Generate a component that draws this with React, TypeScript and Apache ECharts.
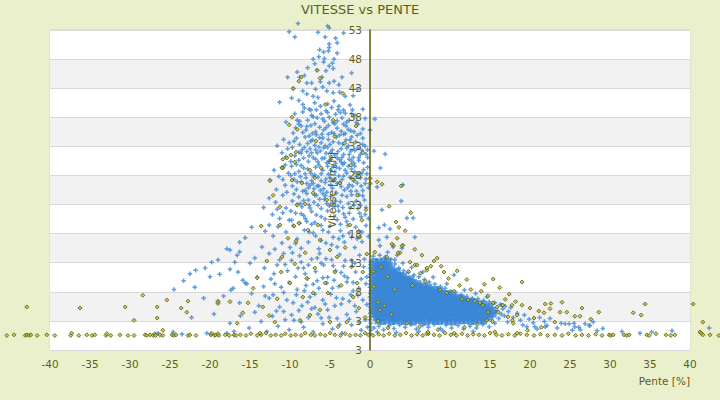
import React, { useEffect, useRef } from "react";
import * as echarts from "echarts";

const titleText = "VITESSE vs PENTE";
const xName = "Pente [%]";
const yName = "Vitesse [km/h]";
const yTickLabels = ["3", "3", "8", "13", "18", "23", "28", "33", "38", "43", "48", "53"];

// Blue series (crosses) – main cluster on descents
const bluePeak: number[][] = [
  [-9,54.1],[-5.3,53.7],[-5.1,53.4],[-10.1,52.7],[-9.4,51.8],[-6.5,52.6],[-5.6,51.8],[-4.3,51.6],[-3.3,52.5],[-5.1,50.6],[-4.1,50.8],[-5.1,50],
  [-6.3,49.6],[-5.8,49.2],[-5.2,49.4],[-4.1,49],[-6.4,48.4],[-7.1,48],[-5.7,48.1],[-5.8,47.5],[-4.5,48],[-4.7,47.3],[-5.1,46.8],[-6.6,46.1],[-5.5,46],[-7.8,46.5],[-3.5,44.9],[-2.3,45.6],[-9.1,45.8],[-8.2,45.2],[-4.6,46.4],[-6.9,47.2],
  [-10.3,44.9],[-8.8,44.9],[-7.9,43.9],[-7.3,43.9],[-6,44.9],[-6.2,44.1],[-5.1,43.9],[-4.5,44.2],[-3.9,43.6],[-9.6,43],[-8.4,42.5],[-7.9,42],[-7.1,41.6],[-6.5,41.4],[-5.4,42.5],[-4.6,42.2],[-3.8,42.3],[-3.1,41.6],[-2.1,41.7],[-11.3,40.6],[-9.8,41.3],[-8.9,40.9],[-8.4,40.2],[-7.4,39.2],[-6.9,40.5],[-6.2,39.9],[-5.3,40.3],[-4.5,40.8],[-3.9,39.9],[-3.3,39.2],[-2.5,40.1],[-0.9,39.4],[-1.6,42.8],[-5.9,43.2],[-6.8,42.8],
  [-9.4,38.6],[-9.1,37.5],[-8.4,38.9],[-7.8,37.5],[-7.1,38.1],[-6.1,38.6],[-5.7,37.3],[-5.1,38],[-4.3,38.5],[-3.5,37.9],[-2.6,37.5],[-1.9,38.3],[-0.9,36],[0,35.8],[-9.6,35.3],[-9.3,36.2],[-8.6,36.5],[-8,35.8],[-7.4,36.6],[-6.8,35.5],[-6.3,36.3],[-5.8,35.8],[-5.2,36.6],[-4.8,35.4],[-4.1,36.1],[-3.6,35.6],[-3,36.5],[-2.4,35.7],[-1.5,36.8],[-1.2,35.2],[-10.5,37.2],[-6.6,37.9],[-4.6,37.1],[-3.1,38.7],[-7.6,39.4],[-2.2,39.3],[-8.8,37.3],[-5.5,39.1],[-4,39.3],[-0.6,37.8],[0.6,37.7],[-6,35.1],[-7.2,35.2],[-3.3,35.1],[-2,35.5],
  [-11.6,33.1],[-10.8,34.2],[-10.1,33.6],[-9.7,32.8],[-9.2,34.4],[-8.8,33.3],[-8.5,32.4],[-8.1,34.6],[-7.8,33.5],[-7.5,32.6],[-7.2,34.1],[-6.9,33.2],[-6.6,31.9],[-6.3,34.5],[-6.1,33.6],[-5.8,32.7],[-5.5,31.8],[-5.2,34.2],[-5,33.3],[-4.7,32.4],[-4.4,31.5],[-4.2,34.6],[-3.9,33.6],[-3.6,32.6],[-3.3,31.6],[-3,34.1],[-2.7,33.1],[-2.4,32.2],[-2.1,31.1],[-1.8,33.8],[-1.5,32.7],[-1.2,31.6],[-0.9,34.4],[-0.6,33],[-0.3,32.4],[0.5,32.2],[1.9,31.7],[-10.5,31.2],[-9.9,30.4],[-9.4,31.4],[-8.9,30.6],[-8.3,31],[-7.7,30.4],[-7.1,31.1],[-6.5,30.3],[-6,30.9],[-5.4,30.2],[-4.9,30.8],[-4.3,30.1],[-3.8,30.7],[-3.2,30.2],[-2.6,30.8],[-2,30.1],[-1.4,30.6],[-0.8,30.2],[-0.3,31.1],[-11,31.9],[-7.4,33.9],[-5.6,33.1],[-4.6,33.8],[-3.4,33.4],[-2.3,34.6],[-6.8,32.4],[-8.6,31.8],[-9.5,33.9],[-1,32.3],[-4,32.1],[-5.3,32.8],[-2.9,32.7],[-6.4,32.9],[-7.9,32.1],
  [-12.5,27.2],[-12,28.9],[-11.4,27.8],[-11,29.4],[-10.6,26.3],[-10.2,28.4],[-9.8,29.6],[-9.5,27.3],[-9.2,25.6],[-8.9,28.7],[-8.6,26.9],[-8.3,29.3],[-8,27.6],[-7.7,25.9],[-7.4,28.4],[-7.1,26.6],[-6.8,29.4],[-6.5,27.7],[-6.2,25.4],[-5.9,28.9],[-5.6,26.8],[-5.3,29.6],[-5,27.6],[-4.7,25.8],[-4.4,28.6],[-4.1,26.6],[-3.8,29.2],[-3.5,27.3],[-3.2,25.5],[-2.9,28.4],[-2.6,26.4],[-2.3,29.1],[-2,27.1],[-1.7,25.3],[-1.4,28.3],[-1.1,26.2],[-0.8,29],[-0.5,27.4],[-0.2,25.9],[1.3,29.3],[0.9,26],[4.1,26.4],[-11.7,25.6],[-10.4,25.1],[-9.7,26.2],[-8.4,25.3],[-7.3,27.1],[-6.4,26.2],[-5.4,25.1],[-4.6,27.1],[-3.6,26.1],[-2.5,27.7],[-1.6,26.7],[-0.4,28.3],[-6.9,28.1],[-5.2,28.2],[-3.1,28.9],[-8.1,28.3],[-9.1,26.9],[-7.8,29.1],[-4.2,29.4],[-1.9,28.6],[-6.1,27.1],[-3.9,27.9],[-2.8,25.9],[-5.8,25.7],[-4.9,26.4],[-7.5,26.3],[-10.9,27.3],[-1.2,27.6],[-0.9,25.4],
  [-13.3,22.5],[-12.6,24.1],[-12.2,21.3],[-11.8,23.4],[-11.3,20.6],[-10.9,24.6],[-10.5,22.4],[-10.1,20.3],[-9.7,23.6],[-9.3,21.5],[-8.9,24.3],[-8.5,22.6],[-8.1,20.6],[-7.7,23.8],[-7.3,21.8],[-6.9,24.6],[-6.5,22.9],[-6.1,20.9],[-5.7,23.9],[-5.3,21.9],[-4.9,24.4],[-4.5,22.6],[-4.1,20.4],[-3.7,23.5],[-3.3,21.4],[-2.9,24.4],[-2.5,22.4],[-2.1,20.5],[-1.7,23.6],[-1.3,21.5],[-0.9,24.5],[-0.5,22.5],[-0.2,20.6],[1.5,22.1],[3.9,23.6],[4.6,20.7],[5.4,20.7],[-9.9,21.9],[-8.7,23.2],[-7.5,22.4],[-6.3,23.9],[-5.1,22.8],[-3.9,21.9],[-2.7,23.2],[-1.5,22.3],[-0.7,23.8],[-11.6,22.2],[-6.7,21.2],[-4.3,23.6],[-3.1,20.8],[-8.3,21.1],[-9.5,24.8],[-5.9,24.9],[-2.3,24.7],[-1.1,20.9],[-7.9,24.9],
  [-14.8,19.1],[-12.6,19.5],[-13.5,15.7],[-17.9,15.4],[-16.3,14.9],[-16.3,16.5],[-12.1,17.6],[-11.5,19.2],[-11,16.4],[-10.5,18.3],[-10,15.6],[-9.6,19.4],[-9.1,17.1],[-8.6,15.5],[-8.2,18.6],[-7.7,16.5],[-7.3,19.6],[-6.8,17.6],[-6.4,15.4],[-5.9,18.6],[-5.5,16.4],[-5,19.3],[-4.6,17.4],[-4.1,15.7],[-3.7,18.5],[-3.2,16.5],[-2.8,19.4],[-2.3,17.4],[-1.9,15.6],[-1.4,18.5],[-1,16.6],[-0.5,19.4],[-0.2,17.5],[1.1,19],[1.8,19.5],[2.5,18.8],[2.1,17.4],[5.6,17.4],[1.1,16.9],[2.9,15.7],[-9.3,16.3],[-7.1,18.1],[-4.8,16.1],[-2.6,18.1],[-13.1,18.4],[-6.1,16.8],[-3.4,17.6],[-8.8,19.8],[-1.6,17.1],[-11.9,15.3],[-15.6,17.3],
  [-23.3,9.9],[-21.8,11.7],[-20.6,12.1],[-19.8,13.1],[-19,13.5],[-17.5,15.2],[-16.6,14.3],[-18.8,11],[-17.5,11.9],[-16.5,11.4],[-15.6,9.5],[-14.1,10.5],[-15,12.9],[-11.3,13.5],[-14.4,13.8],[-13.2,12.1],[-12.6,14.6],[-12,11.1],[-11.6,12.6],[-10.8,14.6],[-10.3,11.6],[-9.8,13.4],[-9.3,10.6],[-8.8,14.2],[-8.3,12.1],[-7.8,10.3],[-7.3,13.6],[-6.8,11.5],[-6.3,14.6],[-5.8,12.6],[-5.3,10.5],[-4.8,13.5],[-4.3,11.6],[-3.8,14.4],[-3.3,12.4],[-2.8,10.4],[-2.3,13.4],[-1.8,11.4],[-1.3,14.3],[-0.8,12.3],[-0.4,10.6],[-9,12.1],[-6.1,12.9],[-3.6,11.3],[-12.4,10.2],[-16.9,13.1],[-20,10.6],[-22.5,11.1],
  [-20.8,6.9],[-19,6.4],[-17.4,8.3],[-17.1,8.6],[-15.9,10],[-15.4,9.4],[-24.5,8.4],[-21.9,8.8],[-18.3,7.3],[-16.3,6.1],[-14.8,7.7],[-13.9,5.6],[-13.3,8.9],[-12.6,6.9],[-11.9,9.4],[-11.3,5.4],[-10.8,7.9],[-10.1,9.6],[-9.6,6.1],[-9.1,8.4],[-8.5,5.6],[-8,9.1],[-7.5,7.1],[-6.9,5.3],[-6.4,8.6],[-5.9,6.6],[-5.4,9.5],[-4.9,7.6],[-4.4,5.6],[-3.9,8.9],[-3.4,6.8],[-2.9,9.7],[-2.4,7.5],[-1.9,5.6],[-1.4,8.6],[-0.9,6.6],[-0.5,9.4],[-10.4,6.6],[-7.8,6.2],[-4.2,7],[-12.1,7.5],[-2.1,8.2],[-6.6,9.9],
  [-26.5,0.9],[-24.6,1.1],[-23.5,0.7],[-20.4,0.9],[-19.9,0.7],[-17.9,0.9],[-17,1.2],[-22.3,3.6],[-19.5,4.2],[-17.5,2.6],[-16.2,3.9],[-15.1,1.8],[-14.4,4.5],[-13.6,2.9],[-12.9,1.2],[-12.2,3.8],[-11.5,2.1],[-10.8,4.6],[-10.1,1.5],[-9.5,3.1],[-8.9,4.8],[-8.3,1.9],[-7.7,3.6],[-7.1,1.1],[-6.5,4.2],[-5.9,2.5],[-5.3,4.9],[-4.7,1.6],[-4.1,3.4],[-3.5,0.9],[-2.9,4.1],[-2.3,2.3],[-1.7,4.6],[-1.1,1.4],[-0.6,3.2]
];

// Blue series – extra points in the densest part of the descent cluster
const bluePeakDense: number[][] = [
  [-8.2,39.6],[-7.3,38.3],[-6.7,39.3],[-5.9,37.7],[-5.3,38.8],[-4.8,39.7],[-4.1,37.4],[-3.7,38.8],[-2.9,37.2],[-2.3,38.6],[-8.9,36.8],[-7.9,36.4],[-6.9,36.9],[-5.5,36.2],[-4.4,36.9],[-3.3,36.8],[-2.7,35.9],[-1.7,37.1],
  [-8.4,35.4],[-7.6,34.8],[-6.7,35],[-5.9,34.4],[-5.2,35.1],[-4.5,35.2],[-3.8,34.9],[-3.1,35.2],[-2.5,34.1],[-1.6,34.9],[-8.9,32],[-8.2,32.8],[-7.3,31.9],[-6.2,32.2],[-5.7,31],[-4.9,32],[-4.1,31],[-3.5,31.1],[-2.6,31.6],[-1.9,32.3],[-1.4,31.1],[-0.5,31.7],[-7.6,31.4],[-6.8,30.8],[-5.1,30.5],[-3.6,30.3],[-2.3,30.5],[-9.2,29.9],[-0.9,33.3],[-10.3,32.6],
  [-9.4,28.3],[-8.7,27.8],[-7.9,26.6],[-7.1,27.9],[-6.6,26.2],[-6.1,28.3],[-5.5,27.4],[-4.9,28.9],[-4.4,27.4],[-3.8,26.8],[-3.3,27.9],[-2.7,29.6],[-2.2,26.2],[-1.7,27.8],[-1,28.4],[-8.1,25.4],[-7,25.7],[-6.7,24.6],[-5.6,24.5],[-4.2,25],[-3.5,24.6],[-2.4,25.3],[-1.4,24.7],[-0.6,26.6],[-9.9,28],[-10.6,29.8],[-8.6,29.7],[-6.4,29.8],[-4.6,29.6],[-3.4,29.9],[-1.9,29.6],[-0.3,29.4],
  [-9.1,23],[-8.3,23.7],[-7.6,22.9],[-7,23.4],[-6.1,22.3],[-5.4,23.2],[-4.7,23.3],[-4,22.7],[-3.4,22.5],[-2.6,21.5],[-2,22.9],[-1.2,22.9],[-0.6,21.3],[-8.6,21.4],[-7.9,20.1],[-6.9,19.9],[-6.1,19.4],[-5.6,20.5],[-4.5,20.9],[-3.7,19.6],[-2.9,20.1],[-1.8,19.1],[-1,18.3],[-9.8,20.3],[-10.9,21.6],[-5.2,18.3],[-3.9,17.1],[-7.6,18.3],
  [-9.7,14.7],[-8.6,13.1],[-7.7,12.6],[-6.6,13.8],[-5.5,13.7],[-4.6,12.5],[-3.1,13.4],[-1.9,12.9],[-0.7,13.6],[-10.6,12.7],[-8.1,11.1],[-7.1,9.3],[-5.9,10.4],[-4.5,10],[-3.2,10.7],[-2.1,9.6],[-1.1,10.2],[-9.2,7.5],[-8.2,8.2],[-6.9,7.6],[-5.6,5.9],[-4.7,8.6],[-3.6,5.9],[-2.6,6.4],[-1.5,7.4],[-0.4,5.8],[-9.8,4],[-8.6,2.8],[-7.3,5.1],[-6.1,3.5],[-5.1,3.6],[-3.8,2.4],[-2.6,3.3],[-1.4,2.8],[-0.3,1.9],[-11.7,4.7],[-10.6,3.2],[-13.1,7.3],[-11.1,8.8]
];

// Blue series – points stacked at 0 % slope
const blueZero: number[][] = [
  [0.05,0.8],[0.1,1.4],[0.05,2.0],[0.1,2.6],[0,3.2],[0.1,3.7],[0.05,4.3],[0.1,4.9],[0,5.4],[0.05,6.0],[0.1,6.6],[0,7.1],[0.05,7.7],[0.1,8.2],[0,8.8],[0.05,9.3],[0.1,9.9],[0,10.5],[0.05,11.0],[0.1,11.6],[0,12.1],[0.05,12.7],[0.1,13.2]
];

// Blue series – edges of the climbing cluster and right tail
const blueClimbEdge: number[][] = [
  [0.4,14.1],[1.2,14.3],[1.9,14],[2.6,13.6],[3.1,12.8],[3.6,12.1],[4.2,11.6],[4.8,11.3],[5.5,10.9],[6.1,10.6],[6.8,10.1],[7.4,9.7],[8.1,9.3],[8.8,8.9],[9.4,8.6],[10.1,8.1],[10.7,7.9],[11.4,7.5],[12.1,7.2],[12.8,6.9],[13.5,6.8],[14.2,6.5],[14.9,6.3],[15.6,6.1],[16.3,5.8],[16.9,5.5],[17.6,5.3],[1.25,15.9],[3.4,14.3],[4,15.5],[3.1,13.5],[4.1,12.9],[5.2,12.2],[6.6,11.4],[10.5,10.9],[2.2,14.8],[7.9,10.5],[9.6,9.4],[11.8,8.3],[13.2,7.7],[14.6,7.1],
  [0.5,1.8],[1.1,2.1],[1.7,1.5],[2.4,2.2],[3.0,1.7],[3.7,2.3],[4.4,1.9],[5.1,2.4],[5.8,1.6],[6.6,2.3],[7.3,1.9],[8.0,2.4],[8.8,1.7],[9.5,2.3],[10.2,1.8],[11.0,2.2],[11.7,1.6],[12.5,2.1],[13.3,1.8],[14.1,2.4],[14.9,2.0],[15.6,2.6],[0.9,1.1],[3.3,1.0],[6.1,1.2],[9.1,1.3],[12.9,1.2],
  [15.9,4.8],[16.4,4.2],[16.1,3.4],[16.8,3.9],[17.3,4.6],[17.9,3.6],[18.4,4.3],[16.6,5.1],[17.2,2.8],[18.8,3.1],[19.3,4.0],[19.9,3.3],[20.4,2.7],[21.2,3.6],[21.8,2.9],[22.5,3.4],[23.4,1.8],[23.9,2.6],[24.4,2.5],[24.9,2.5],[25.5,2.6],[26.1,1.9],[26.9,2.5],[27.4,2.2],[28.4,1.3],[33.75,0.9],[37.75,1.3],[42.4,1.8],[19.6,2.0],[20.9,1.6],[22.1,2.2],[25.3,1.4],[27.9,2.8],[29.1,1.7],[31.5,1.2],[35.2,1.1],[19.1,2.3],[20.6,2.0],[21.9,2.0],[25.6,2.0],[26.3,1.5],[27.5,2.2]
];

// Blue series – dense core of the climbing cluster
const blueClimbCore: number[][] = [
  [1.0,3.0],[1.6,2.9],[2.1,3.1],[2.7,2.9],[3.2,3.0],[3.8,3.1],[4.3,2.9],[4.9,3.0],[5.4,2.8],[6.0,3.1],[6.5,3.0],[7.1,2.8],[7.6,3.1],[8.2,3.0],[8.7,2.9],[9.3,3.1],[9.8,2.9],[10.4,2.8],[10.9,3.1],[11.5,3.0],[12.0,3.1],[12.6,2.9],[13.1,3.0],[13.7,3.1],[14.2,3.0],
  [0.8,3.6],[1.3,3.5],[1.9,3.7],[2.4,3.6],[3.0,3.5],[3.5,3.7],[4.1,3.6],[4.6,3.5],[5.2,3.7],[5.7,3.6],[6.3,3.5],[6.8,3.7],[7.4,3.6],[7.9,3.5],[8.5,3.7],[9.0,3.6],[9.6,3.5],[10.1,3.7],[10.7,3.6],[11.2,3.5],[11.8,3.7],[12.3,3.6],[12.9,3.5],[13.4,3.7],[14.0,3.6],[14.5,3.5],[15.0,3.7],
  [0.6,4.2],[1.1,4.1],[1.7,4.3],[2.2,4.2],[2.8,4.1],[3.3,4.3],[3.9,4.2],[4.4,4.1],[5.0,4.3],[5.5,4.2],[6.1,4.1],[6.6,4.3],[7.2,4.2],[7.7,4.1],[8.3,4.3],[8.8,4.2],[9.4,4.1],[9.9,4.3],[10.5,4.2],[11.0,4.1],[11.6,4.3],[12.1,4.2],[12.7,4.1],[13.2,4.3],[13.8,4.2],[14.3,4.1],[14.9,4.3],[15.4,4.2],
  [0.5,4.8],[1.0,4.7],[1.6,4.9],[2.1,4.8],[2.7,4.7],[3.2,4.9],[3.8,4.8],[4.3,4.7],[4.9,4.9],[5.4,4.8],[6.0,4.7],[6.5,4.9],[7.1,4.8],[7.6,4.7],[8.2,4.9],[8.7,4.8],[9.3,4.7],[9.8,4.9],[10.4,4.8],[10.9,4.7],[11.5,4.9],[12.0,4.8],[12.6,4.7],[13.1,4.9],[13.7,4.8],[14.2,4.7],[14.8,4.9],[15.3,4.8],
  [0.7,5.4],[1.3,5.3],[1.8,5.5],[2.4,5.4],[2.9,5.3],[3.5,5.5],[4.0,5.4],[4.6,5.3],[5.1,5.5],[5.7,5.4],[6.2,5.3],[6.8,5.5],[7.3,5.4],[7.9,5.3],[8.4,5.5],[9.0,5.4],[9.5,5.3],[10.1,5.5],[10.6,5.4],[11.2,5.3],[11.7,5.5],[12.3,5.4],[12.8,5.3],[13.4,5.5],[13.9,5.4],[14.5,5.3],[15.0,5.5],
  [0.5,6.0],[1.0,5.9],[1.6,6.1],[2.1,6.0],[2.7,5.9],[3.2,6.1],[3.8,6.0],[4.3,5.9],[4.9,6.1],[5.4,6.0],[6.0,5.9],[6.5,6.1],[7.1,6.0],[7.6,5.9],[8.2,6.1],[8.7,6.0],[9.3,5.9],[9.8,6.1],[10.4,6.0],[10.9,5.9],[11.5,6.1],[12.0,6.0],[12.6,5.9],[13.1,6.1],[13.7,5.9],[14.2,5.8],
  [0.7,6.6],[1.3,6.5],[1.8,6.7],[2.4,6.6],[2.9,6.5],[3.5,6.7],[4.0,6.6],[4.6,6.5],[5.1,6.7],[5.7,6.6],[6.2,6.5],[6.8,6.7],[7.3,6.6],[7.9,6.5],[8.4,6.7],[9.0,6.6],[9.5,6.5],[10.1,6.7],[10.6,6.6],[11.2,6.5],[11.7,6.6],[12.3,6.4],[12.8,6.3],
  [0.5,7.2],[1.0,7.1],[1.6,7.3],[2.1,7.2],[2.7,7.1],[3.2,7.3],[3.8,7.2],[4.3,7.1],[4.9,7.3],[5.4,7.2],[6.0,7.1],[6.5,7.3],[7.1,7.2],[7.6,7.1],[8.2,7.3],[8.7,7.2],[9.3,7.1],[9.8,7.2],[10.4,7.1],[10.9,7.0],[11.4,6.9],
  [0.7,7.8],[1.3,7.7],[1.8,7.9],[2.4,7.8],[2.9,7.7],[3.5,7.9],[4.0,7.8],[4.6,7.7],[5.1,7.9],[5.7,7.8],[6.2,7.7],[6.8,7.9],[7.3,7.8],[7.9,7.7],[8.4,7.9],[9.0,7.8],[9.5,7.7],[10.0,7.6],
  [0.5,8.4],[1.0,8.3],[1.6,8.5],[2.1,8.4],[2.7,8.3],[3.2,8.5],[3.8,8.4],[4.3,8.3],[4.9,8.5],[5.4,8.4],[6.0,8.3],[6.5,8.5],[7.1,8.4],[7.6,8.3],[8.2,8.4],[8.7,8.2],
  [0.7,9.0],[1.3,8.9],[1.8,9.1],[2.4,9.0],[2.9,8.9],[3.5,9.1],[4.0,9.0],[4.6,8.9],[5.1,9.1],[5.7,9.0],[6.2,8.9],[6.8,9.0],[7.3,8.8],
  [0.5,9.6],[1.0,9.5],[1.6,9.7],[2.1,9.6],[2.7,9.5],[3.2,9.7],[3.8,9.6],[4.3,9.5],[4.9,9.7],[5.4,9.6],[6.0,9.4],
  [0.7,10.2],[1.3,10.1],[1.8,10.3],[2.4,10.2],[2.9,10.1],[3.5,10.3],[4.0,10.2],[4.6,10.1],[5.1,10.2],
  [0.5,10.8],[1.0,10.7],[1.6,10.9],[2.1,10.8],[2.7,10.7],[3.2,10.9],[3.8,10.8],[4.2,10.7],
  [0.7,11.4],[1.3,11.3],[1.8,11.5],[2.4,11.4],[2.9,11.3],[3.4,11.5],
  [0.5,12.0],[1.0,11.9],[1.6,12.1],[2.1,12.0],[2.7,11.9],
  [0.7,12.6],[1.3,12.5],[1.8,12.7],[2.4,12.6],
  [0.6,13.2],[1.1,13.1],[1.7,13.3],[2.2,13.2]
];

// Olive series (diamonds) – near-stationary points along the bottom
const oliveBottom: number[][] = [
  [-45.4,0.5],[-44.5,0.6],[-43.1,0.5],[-42.9,0.6],[-42.6,0.5],[-42.4,0.6],[-41.6,0.5],[-40.4,0.6],[-39.4,0.5],[-37.4,0.5],[-37.3,0.9],[-36.4,0.5],[-35.4,0.6],[-34.75,0.5],[-34.4,0.6],[-33,0.5],[-32.9,0.8],[-32.4,0.5],[-31.25,0.6],[-30.25,0.5],[-29.5,0.5],[-28.1,0.6],[-27.9,0.5],[-27.5,0.6],[-27.1,0.5],[-26.9,0.8],[-26.8,0.5],[-26.25,0.6],[-25.9,0.5],[-24.75,0.6],[-24.5,0.5],[-24.25,0.6],[-22.75,0.5],[-22.5,0.6],[-21.75,0.5],[-19.9,0.6],[-19.8,0.9],[-19.4,0.5],[-19.3,0.6],[-19,0.8],[-18.9,0.5],[-18.1,0.6],[-17.6,0.5],[-17,0.6],[-16.75,0.5],
  [-16.2,0.6],[-15.5,0.5],[-14.9,0.8],[-14.1,0.5],[-13.6,0.6],[-13,0.9],[-12.4,0.5],[-11.8,0.6],[-11.1,0.5],[-10.6,0.8],[-9.9,0.5],[-9.3,0.6],[-8.6,0.5],[-8.1,0.9],[-7.4,0.6],[-6.9,0.5],[-6.2,0.7],[-5.6,0.5],[-5,0.9],[-4.4,0.6],[-3.7,0.5],[-3.1,0.8],[-2.5,0.5],[-1.8,0.6],[-1.2,0.5],[-0.6,0.9],[-0.2,0.6],[0.4,0.5],[1.1,0.7],[1.7,0.5],[2.4,0.8],[3.1,0.5],[3.8,0.6],[4.5,0.9],[5.2,0.5],[5.9,0.7],[6.6,0.5],[7.3,0.8],[8,0.6],[8.7,0.5],[9.4,0.9],[10.1,0.6],[10.8,0.5],[11.5,0.8],[12.2,0.5],[12.9,0.7],[13.6,0.6],[14.3,0.5],[15,0.9],[15.8,0.6],[16.5,0.5],[17.3,0.7],[18.1,0.5],[18.8,0.8],[19.6,0.6],[20.5,0.5],[21.3,0.7],[22.2,0.5],[23.1,0.6],[24,0.5],[24.8,0.8],[25.7,0.5],[26.5,0.6],[27.3,0.5],[28.2,0.7],[29,0.5],
  [29.9,0.6],[30.1,0.5],[30.4,0.6],[31.75,0.6],[32.1,0.5],[32.4,0.6],[34.6,0.6],[34.9,0.5],[35.75,0.8],[37,0.6],[37.6,0.5],[38.1,0.6],[41.25,1.1],[41.4,0.9],[41.6,0.6],[42.5,0.6],[43.6,0.5]
];

// Olive series – descents
const oliveDescent: number[][] = [
  [-42.9,5.4],[-36.25,5.2],[-30.6,5.4],[-28.4,7.4],[-29.5,3.1],[-26.6,5.4],[-26.6,3.5],[-25.4,6.6],[-25.9,1.4],[-23.6,5.2],[-22.75,6.4],[-22.9,4.5],[-19,6],[-19,6.3],[-16.6,2.6],
  [-6.25,44.7],[-8.9,44.2],[-9.6,42.9],[-9.75,38],[-8.6,44.9],[-6.6,46.1],[-4.6,37.5],[-1.75,36.5],[-6.75,33.9],[-10.4,31],[-10.9,29.3],[-12.5,27.1],[-9.4,30.3],[-8.5,26.7],[-7.1,25],[-10.9,30.8],[-9.9,31.5],[-9.25,32],[-11,29.3],[-9.75,27.2],[-11.25,22.6],[-9.1,22.9],[-8.9,19.8],[-9.5,19.3],[-9.25,16.7],[-10.25,17.2],[-11.25,19.5],[-11,14],[-9.4,12.8],[-10,9.5],[-11.6,6.8],[-13.4,5.4],[-14.1,10.4],[-15.25,6.1],[-15.9,4.4],[-13.75,0.9],[-11.9,2.8],[-8.75,3.1],[-7.1,7.8],[-5.25,7.8],[-5.6,9.5],[-4.4,11.4],[-4.1,14],[-5,15.2],[-6.5,19.5],[-6.25,16.9],[-7.75,18.6],[-5.4,23.8],[-2.5,19.5],[-1,20.3],[-0.9,11.4],[-1.6,9.5],[-2.1,7.1],[-1.4,5.2],[-2.9,2.8],[-4,2],[-5,2.8],[-6.25,4.9],[-7.5,4],[-8.4,7.1],[-7.5,28.9],[-3.75,26.7],[-1.6,24.6],[-0.9,31.9],[-3.2,33.5],[-2.4,29.8],[-4.9,31.2],[-6.1,29.3],[-2.1,27.3],[-0.5,22.1],[-1.3,17.4],[-3.1,15.6],[-2.3,12.3],[-3.6,9.1],[-0.4,14.5],[-0.6,3.6],[-9.1,35.9],[-10.1,36.7],[-5.6,40.2],[-3.4,42.1],[-4.4,34.7],[-6.9,27.6],[-8.1,23.1],[-12.1,24.6],[-13.6,19.3],[-12.9,13.3],[-14.6,8.6],[-17.5,6.3],[-12.6,3.9],[-11.1,11.4],[-8.1,14.7],[-6.9,12.1],[-7.9,10.3]
];

// Olive series – climbs
const oliveClimb: number[][] = [
  [0,26.6],[0,27.5],[0.9,26.9],[1.5,26.5],[2.4,22.7],[3.25,20],[2.9,16],[4.1,16],[5,13.1],[5.6,12.6],[3.75,14.7],[7.1,11.7],[7.6,12.4],[8.4,13.8],[2.1,14],[1.4,12.3],[1,6.2],[1.25,4.9],[2.25,1.8],[7.1,0.8],[2.75,16.2],[4,15.9],[3.5,14.7],[5.9,12.6],[7.1,12.1],[8,13.3],[8.9,12.4],[9.25,11.4],[6.3,11.2],[4.8,11.5],[10.5,8.1],[12.25,6.6],[11.5,6.8],[13.1,6.4],[13.75,6.1],[14.75,4.5],[15.9,5.4],[16.5,5.7],[15.4,10.2],[9.6,7.8],[8.75,8.3],[1,3],[7.25,1.1],[10.5,0.9],[14.75,7.3],[15.4,6.1],[17.75,5.7],[18.4,4],[19,5.7],[19,9.7],[20,5.2],[20.5,3.5],[21.1,4.7],[21.75,4.4],[21.9,5.9],[22.5,5.1],[22.6,6],[23.75,4.5],[24,6.2],[24.6,4.5],[25.6,3.8],[26.25,3.8],[26.5,5.2],[27.6,3.3],[28.6,4.5],[32.9,4.4],[33.9,4],[34.4,5.9],[40.4,5.9],[41.6,2.8],[4.4,18.5],[3.4,17.2],[5.6,15.3],[6.5,14.3],[9.8,10.3],[11.2,9.1],[12.6,8.4],[13.9,8.1],[14.3,9.3],[16.9,6.7],[17.4,7.6],[18.2,6.3],[16.2,8.7],[12.1,10.1],[10.9,11.6],[6.9,9.8],[5.3,9.1],[3.1,8.4],[2.2,10.6],[1.8,5.6],[2.7,4.1],[4.6,2.6],[6.2,2],[8.5,1.5],[11.8,1.9],[13.4,2.4],[15.3,2.9],[17.8,3.1],[19.7,1.4],[21.4,1.9],[23.1,2.8],[0.5,8.9],[0.4,11.5],[0.6,14.8],[14.1,5.7],[16,4.5],[16.6,5.7],[17.25,3.7],[17.9,2.6],[14.6,3.1],[15.6,1.1],[18.4,0.9],[3.9,26.2],[5.1,21.6],[3.6,19.1]
];

const TEXT = "#5e5e1c";
const BLUE = "#3886d6";
const FONT = "DejaVu Sans";
const CROSS = "path://M1,0H2V3H1Z M0,1H3V2H0Z";

export default function App() {
  const ref = useRef<HTMLDivElement>(null);
  useEffect(() => {
    document.body.style.margin = "0";
    if (!ref.current) return;
    const chart = echarts.init(ref.current, undefined, { renderer: "svg" });
    chart.setOption({
      animation: false,
      backgroundColor: "#ebf0cc",
      textStyle: { fontFamily: FONT },
      title: {
        text: titleText,
        left: "center",
        top: 3,
        padding: 0,
        textStyle: { color: TEXT, fontSize: 13, fontWeight: "normal", fontFamily: FONT },
      },
      grid: {
        left: 50,
        right: 30,
        top: 30,
        bottom: 50,
        show: true,
        borderColor: "#d6d6d6",
        borderWidth: 1,
        backgroundColor: "transparent",
        outerBoundsMode: "none",
        containLabel: false,
      },
      xAxis: {
        type: "value",
        min: -40,
        max: 40,
        interval: 5,
        axisLine: { show: false, onZero: false },
        axisTick: { show: false },
        splitLine: { show: false },
        axisLabel: { color: TEXT, fontSize: 10.5, margin: 8, fontFamily: FONT },
        name: xName,
        nameLocation: "end",
        nameGap: 0,
        nameTextStyle: {
          color: TEXT,
          fontSize: 10.5,
          fontFamily: FONT,
          align: "right",
          verticalAlign: "top",
          padding: [25, 0, 0, 0],
        },
      },
      yAxis: [
        {
          type: "value",
          position: "left",
          min: -2,
          max: 53,
          interval: 5,
          axisLine: { show: false, onZero: false },
          axisTick: { show: false },
          axisLabel: { show: false },
          splitLine: { show: true, lineStyle: { color: "#d9d9d9", width: 1 } },
          splitArea: { show: true, areaStyle: { color: ["#ffffff", "#f2f2f2"] } },
        },
        {
          type: "value",
          position: "left",
          offset: -320,
          min: -2,
          max: 53,
          interval: 5,
          z: 5,
          axisLine: { show: true, onZero: false, lineStyle: { color: "#5a5a00", width: 1.5 } },
          axisTick: { show: false },
          splitLine: { show: false },
          splitArea: { show: false },
          axisLabel: {
            color: TEXT,
            fontSize: 10.5,
            margin: 8,
            fontFamily: FONT,
            formatter: (v: number) => yTickLabels[Math.round((v + 2) / 5)] ?? String(v),
          },
          name: yName,
          nameLocation: "middle",
          nameGap: 23,
          nameTextStyle: { color: TEXT, fontSize: 10.5, fontFamily: FONT },
        },
      ],
      series: [
        {
          type: "scatter",
          yAxisIndex: 0,
          data: [...bluePeak, ...bluePeakDense, ...blueZero, ...blueClimbEdge],
          symbol: CROSS,
          symbolSize: 4.5,
          itemStyle: { color: BLUE },
          clip: false,
          silent: true,
        },
        {
          type: "scatter",
          yAxisIndex: 0,
          data: blueClimbCore,
          symbol: "rect",
          symbolSize: 7,
          itemStyle: { color: BLUE },
          clip: false,
          silent: true,
        },
        {
          type: "scatter",
          yAxisIndex: 0,
          data: [...oliveBottom, ...oliveDescent, ...oliveClimb],
          symbol: "diamond",
          symbolSize: 4,
          itemStyle: { color: "#bcbc48", borderColor: "#5a5a00", borderWidth: 1 },
          clip: false,
          silent: true,
        },
      ],
    });
    return () => chart.dispose();
  }, []);
  return <div ref={ref} style={{ width: 720, height: 400 }} />;
}
